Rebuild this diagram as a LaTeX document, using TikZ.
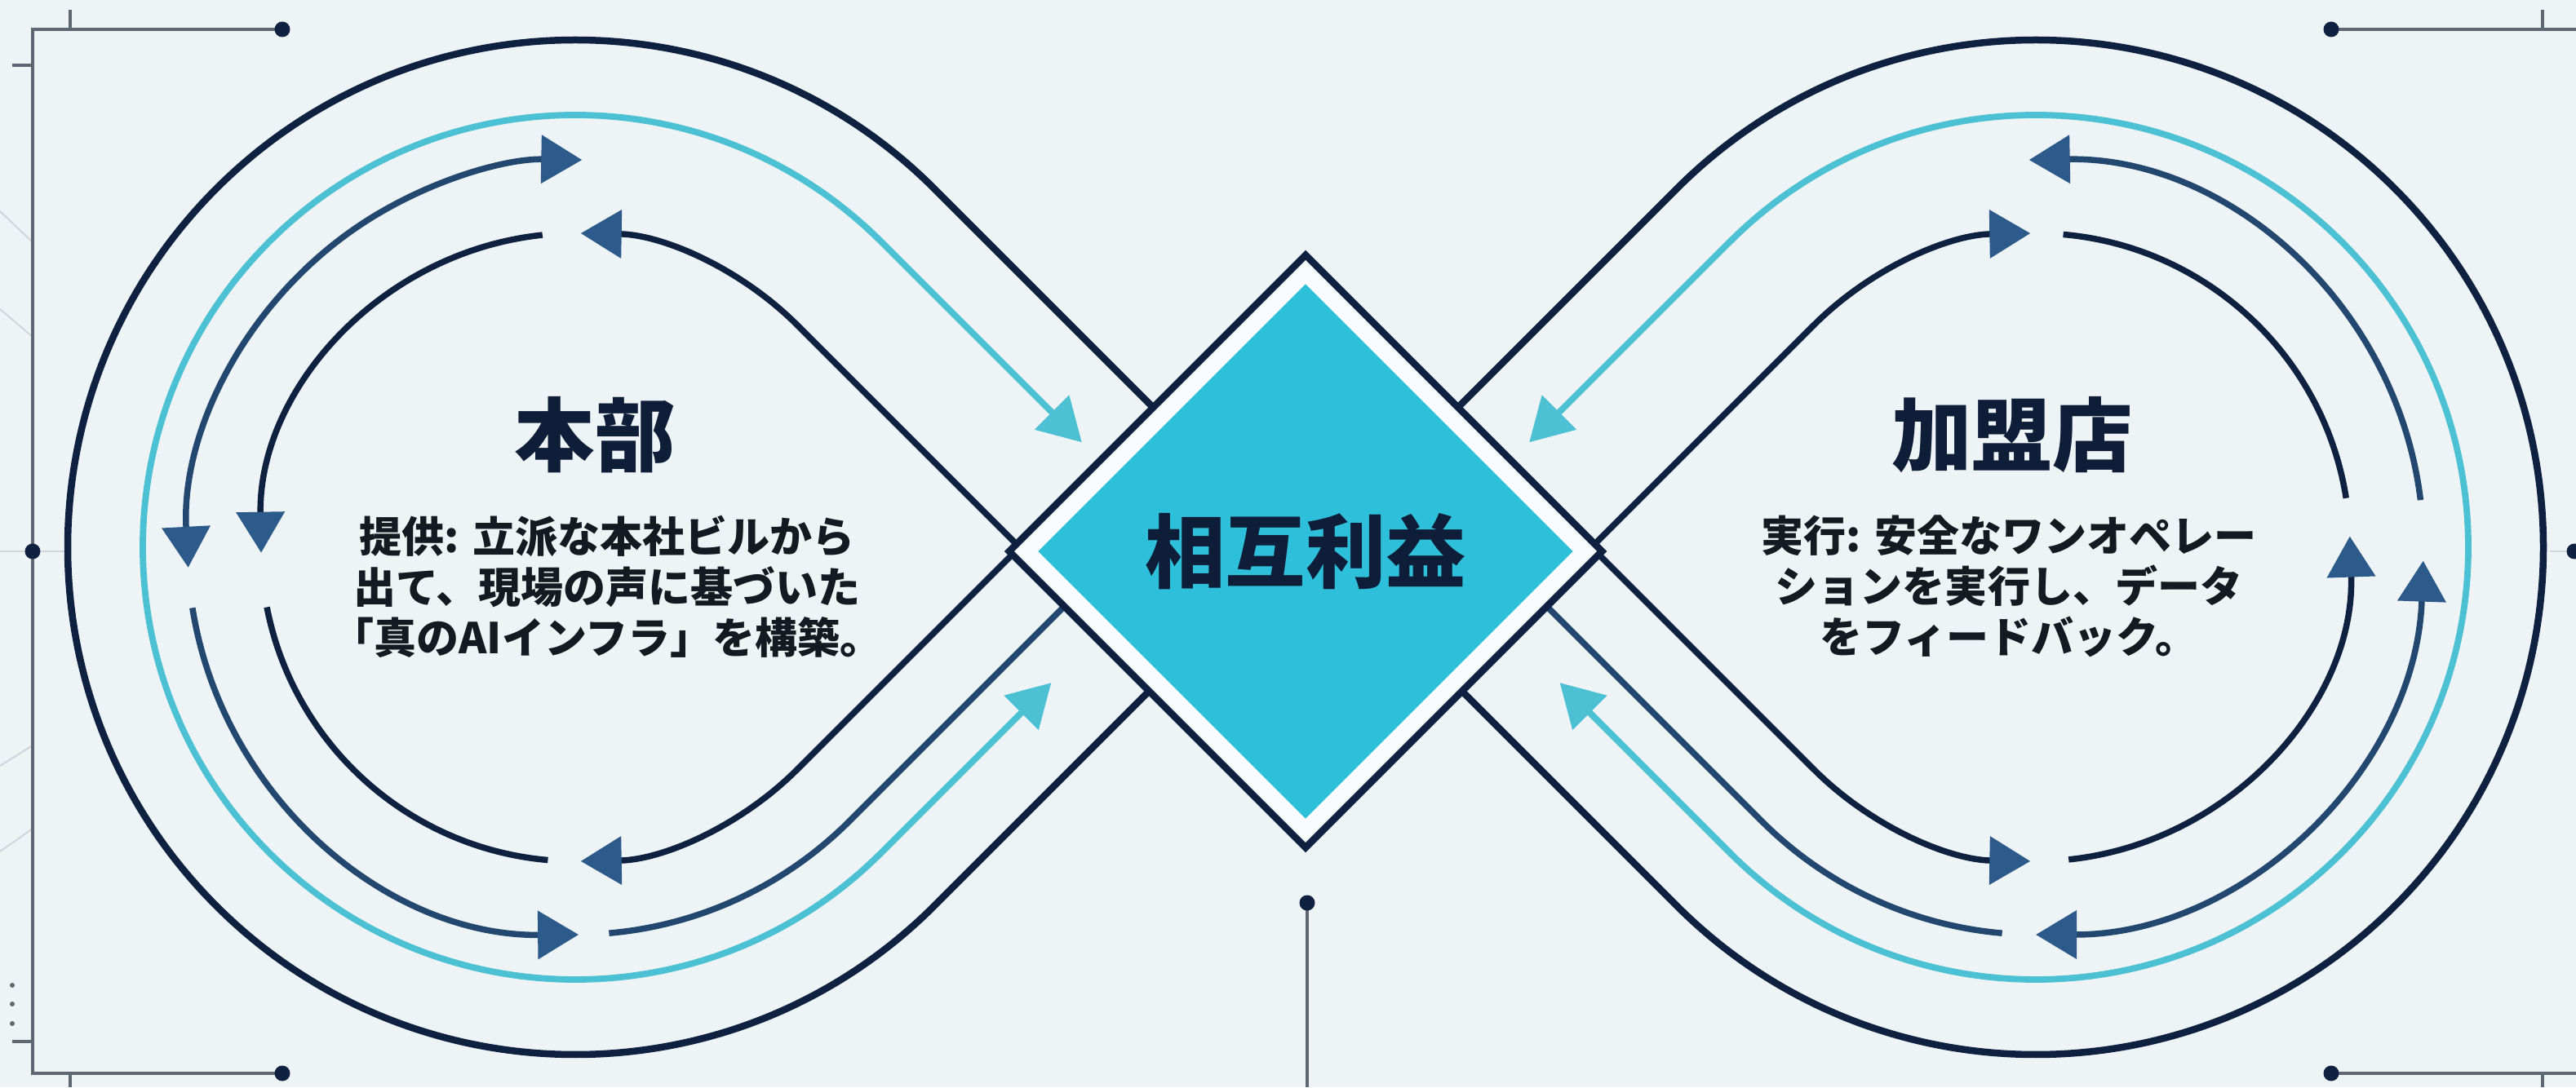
\documentclass[tikz,border=0pt]{standalone}
\usepackage{fontspec}
\usepackage{xcolor}
\usetikzlibrary{arrows.meta,calc,shapes.geometric}
\newfontfamily\jpfont{Noto Sans CJK JP}

\definecolor{bgcol}{HTML}{EEF3F6}
\definecolor{navy}{HTML}{0F2140}
\definecolor{ringcyan}{HTML}{4CC1D3}
\definecolor{coreblue}{HTML}{2EC0DA}
\definecolor{headblue}{HTML}{2C5B8B}
\definecolor{flowblue}{HTML}{23486F}
\definecolor{framegrey}{HTML}{5E6872}
\definecolor{faintgrey}{HTML}{CFD6DC}
\definecolor{titlenavy}{HTML}{0E1D38}
\definecolor{bodyink}{HTML}{151A22}

\begin{document}
\begin{tikzpicture}[
    ring/.style={draw=navy, line width=0.085cm},
    cyanring/.style={draw=ringcyan, line width=0.078cm},
    flowA/.style={draw=flowblue, line width=0.075cm},
    flowI/.style={draw=navy, line width=0.075cm},
    frameline/.style={draw=framegrey, line width=0.04cm},
    faint/.style={draw=faintgrey, line width=0.02cm},
    Head/.tip={Triangle[length=0.5cm, width=0.58cm, color=headblue]},
    CHead/.tip={Triangle[length=0.52cm, width=0.58cm, color=ringcyan]},
    outerdia/.style={diamond, draw=navy, line width=0.085cm, fill=white!70!bgcol,
        minimum width=7.3cm, minimum height=7.3cm, inner sep=0pt},
    innerdia/.style={diamond, fill=coreblue, minimum width=6.56cm,
        minimum height=6.56cm, inner sep=0pt, text=titlenavy,
        font=\jpfont\bfseries\fontsize{28pt}{32pt}\selectfont},
    title/.style={text=titlenavy, font=\jpfont\bfseries\fontsize{28pt}{32pt}\selectfont},
    body/.style={text=bodyink, align=center,
        font=\jpfont\bfseries\fontsize{14.8pt}{17.6pt}\selectfont}
]

    % Background
    \fill[bgcol] (0,0) rectangle (31.57,13.33);
    \useasboundingbox (0,0) rectangle (31.57,13.33);

    \coordinate (L) at (7.05,6.62);
    \coordinate (R) at (24.95,6.62);
    \coordinate (D) at (16,6.57);

    % Frame
    \coordinate (tlDot) at (3.46,12.97);
    \coordinate (blDot) at (3.46,0.17);
    \coordinate (lDot) at (0.40,6.57);
    \coordinate (trDot) at (28.57,12.97);
    \coordinate (brDot) at (28.57,0.17);
    \coordinate (rDot) at (31.55,6.57);
    \coordinate (bDot) at (16.02,2.26);

    \draw[faint] (0,6.57) -- (0.82,6.57);
    \draw[faint] (31.25,6.57) -- (rDot);
    \draw[faint] (0,10.74) -- (0.40,10.36);
    \draw[faint] (0,9.54) -- (0.40,9.20);
    \draw[faint] (0,3.94) -- (0.40,4.19);
    \draw[faint] (0,2.89) -- (0.40,3.17);

    \draw[frameline] (tlDot) -- (0.40,12.97) -- (0.40,0.17) -- (blDot);
    \draw[frameline] (0.86,12.97) -- (0.86,13.21);
    \draw[frameline] (0.15,12.53) -- (0.40,12.53);
    \draw[frameline] (0.15,0.56) -- (0.40,0.56);
    \draw[frameline] (0.86,0.17) -- (0.86,0);
    \draw[frameline] (trDot) -- (31.57,12.97);
    \draw[frameline] (31.16,12.97) -- (31.16,13.21);
    \draw[frameline] (brDot) -- (31.57,0.17);
    \draw[frameline] (31.16,0.17) -- (31.16,0);
    \draw[frameline] (bDot) -- (16.02,0);

    \foreach \p in {tlDot,blDot,lDot,trDot,brDot,rDot,bDot}
        \fill[navy] (\p) circle (0.095);
    \foreach \y in {1.25,1.02,0.78}
        \fill[framegrey] (0.15,\y) circle (0.03);

    % Outer rings
    \draw[ring] ($(L)+(45:6.22)+(-45:3.9)$) -- ($(L)+(45:6.22)$)
        arc[start angle=45, end angle=315, radius=6.22] -- ++(45:3.83);
    \draw[ring] ($(R)+(135:6.22)+(-135:3.9)$) -- ($(R)+(135:6.22)$)
        arc[start angle=135, end angle=-135, radius=6.22] -- ++(135:3.83);

    % Cyan rings
    \draw[cyanring, {CHead}-{CHead}] ($(L)+(45:5.3)+(-45:3.48)$) -- ($(L)+(45:5.3)$)
        arc[start angle=45, end angle=315, radius=5.3] -- ++(45:2.95);
    \draw[cyanring, {CHead}-{CHead}] ($(R)+(135:5.3)+(-135:3.48)$) -- ($(R)+(135:5.3)$)
        arc[start angle=135, end angle=-135, radius=5.3] -- ++(135:2.95);

    % Left flow arrows
    \draw[flowA, {Head}-{Head}] ($(L)+(183:4.75)$) arc[start angle=183, end angle=89, radius=4.75];
    \draw[flowA, -{Head}] ($(L)+(189:4.75)$) arc[start angle=189, end angle=270.5, radius=4.75];
    \draw[flowA] ($(L)+(275:4.75)$) arc[start angle=275, end angle=315, radius=4.75] -- ++(45:3.83);

    \draw[flowI, -{Head}] ($(L)+(45:3.85)+(-45:3.9)$) -- ($(L)+(45:3.85)$)
        arc[start angle=45, end angle=89, radius=3.85];
    \draw[flowI, -{Head}] ($(L)+(96:3.85)$) arc[start angle=96, end angle=181, radius=3.85];
    \draw[flowI] ($(L)+(191:3.85)$) arc[start angle=191, end angle=265, radius=3.85];
    \draw[flowI, -{Head}] ($(L)+(-45:3.85)+(45:3.83)$) -- ($(L)+(-45:3.85)$)
        arc[start angle=-45, end angle=-89, radius=3.85];

    % Right flow arrows
    \draw[flowA, -{Head}] ($(R)+(7:4.75)$) arc[start angle=7, end angle=91, radius=4.75];
    \draw[flowA, {Head}-{Head}] ($(R)+(-2:4.75)$) arc[start angle=-2, end angle=-90, radius=4.75];
    \draw[flowA] ($(R)+(-135:4.75)+(135:3.83)$) -- ($(R)+(-135:4.75)$)
        arc[start angle=-135, end angle=-95, radius=4.75];

    \draw[flowI, -{Head}] ($(R)+(135:3.85)+(-135:3.9)$) -- ($(R)+(135:3.85)$)
        arc[start angle=135, end angle=91, radius=3.85];
    \draw[flowI] ($(R)+(85:3.85)$) arc[start angle=85, end angle=9, radius=3.85];
    \draw[flowI, -{Head}] ($(R)+(-84:3.85)$) arc[start angle=-84, end angle=2, radius=3.85];
    \draw[flowI, -{Head}] ($(R)+(-135:3.85)+(135:3.83)$) -- ($(R)+(-135:3.85)$)
        arc[start angle=-135, end angle=-91, radius=3.85];

    % Core diamond
    \node[outerdia] (core) at (D) {};
    \node[innerdia] (gain) at (core.center) {相互利益};

    % Texts
    \node[title] (hq) at (7.29,8.00) {本部};
    \node[body] (hqtext) at (7.44,6.14) {提供: 立派な本社ビルから\\出て、現場の声に基づいた\\「真のAIインフラ」を構築。};
    \node[title] (fc) at (24.66,8.00) {加盟店};
    \node[body] (fctext) at (24.62,6.14) {実行: 安全なワンオペレー\\ションを実行し、データ\\をフィードバック。};

\end{tikzpicture}
\end{document}
